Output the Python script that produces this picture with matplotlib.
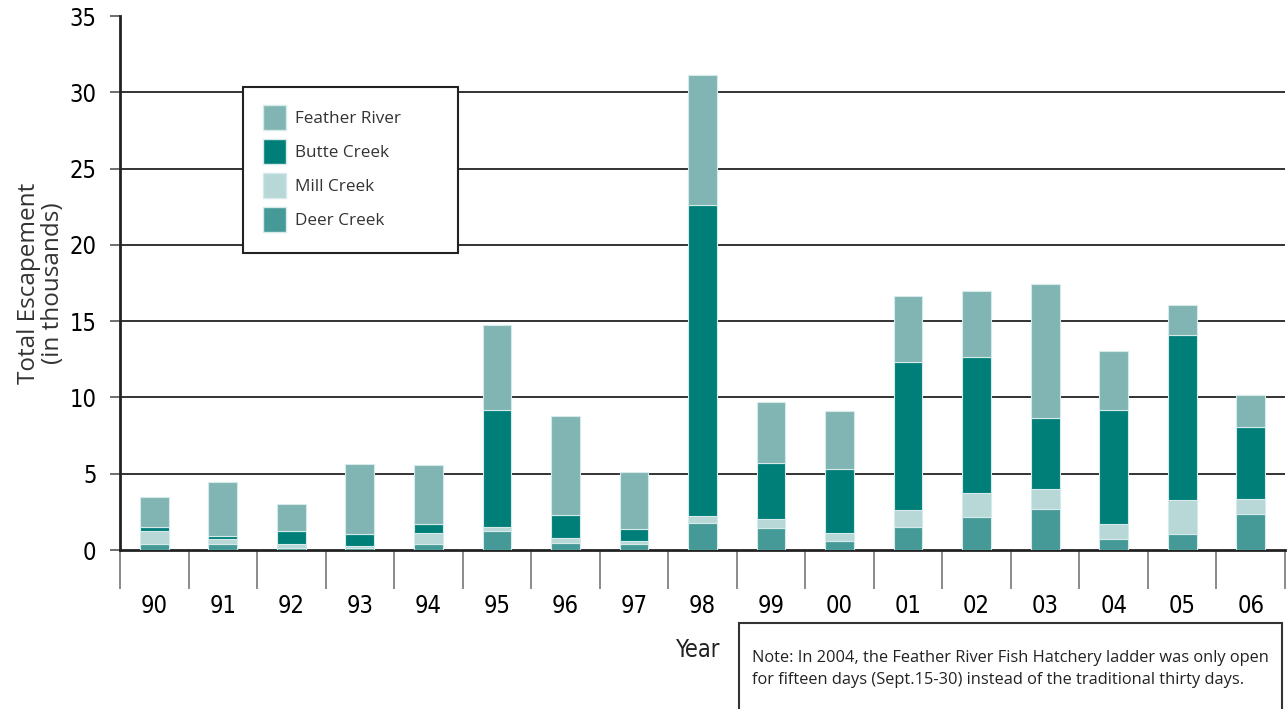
import numpy as np
import matplotlib.pyplot as plt
from matplotlib.patches import Patch, Rectangle
from matplotlib import font_manager

years = ['90', '91', '92', '93', '94', '95', '96', '97', '98',
         '99', '00', '01', '02', '03', '04', '05', '06']

# escapement by stream, thousands of fish (stacked bottom to top)
deer = [0.40, 0.37, 0.15, 0.15, 0.37, 1.27, 0.48, 0.37, 1.80,
        1.44, 0.59, 1.49, 2.16, 2.71, 0.70, 1.03, 2.36]
mill = [0.85, 0.33, 0.22, 0.11, 0.76, 0.22, 0.32, 0.22, 0.45,
        0.56, 0.54, 1.11, 1.56, 1.31, 1.00, 2.25, 1.00]
butte = [0.25, 0.22, 0.88, 0.79, 0.57, 7.71, 1.47, 0.79, 20.35,
         3.72, 4.17, 9.74, 8.93, 4.63, 7.50, 10.82, 4.70]
feather = [1.95, 3.56, 1.75, 4.59, 3.85, 5.55, 6.53, 3.72, 8.55,
           3.96, 3.83, 4.29, 4.30, 8.76, 3.84, 1.98, 2.08]

series = [('Deer Creek', deer, '#459a98'),
          ('Mill Creek', mill, '#b8d7d7'),
          ('Butte Creek', butte, '#007f79'),
          ('Feather River', feather, '#80b5b3')]

# narrow face for the numbers
narrow = font_manager.FontProperties(family='DejaVu Sans', stretch='condensed', size=17)

fig = plt.figure(figsize=(12.87, 7.09), dpi=100)
ax = fig.add_axes([120 / 1287, 1 - 550 / 709, 1165 / 1287, 534 / 709])

x = np.arange(len(years))
bottom = np.zeros(len(years))
for name, vals, col in series:
    ax.bar(x, vals, width=0.42, bottom=bottom, color=col,
           edgecolor='#d6eaea', linewidth=0.8, zorder=3)
    bottom += np.array(vals)

ax.set_xlim(-0.5, len(years) - 0.5)
ax.set_ylim(0, 35)

yt = np.arange(0, 40, 5)
ax.set_yticks(yt)
ax.set_yticklabels([str(v) for v in yt], fontproperties=narrow)
ax.tick_params(axis='y', length=7, width=1.2, color='#555555', pad=10)
for v in yt[1:-1]:
    ax.axhline(v, color='#333333', lw=1.4, zorder=1)

# year separators as long ticks, labels centred between them
ax.set_xticks(np.arange(-0.5, len(years), 1))
ax.set_xticklabels([])
ax.tick_params(axis='x', which='major', length=28, width=1.2, color='#777777')
ax.set_xticks(x, minor=True)
ax.set_xticklabels(years, minor=True, fontproperties=narrow)
ax.tick_params(axis='x', which='minor', length=0, pad=32)

for s in ['top', 'right']:
    ax.spines[s].set_visible(False)
ax.spines['left'].set_linewidth(2)
ax.spines['bottom'].set_linewidth(2)
ax.spines['left'].set_color('#222222')
ax.spines['bottom'].set_color('#222222')

ax.set_ylabel('Total Escapement\n(in thousands)', fontsize=17.5, family='Open Sans',
              color='#333333', labelpad=3, linespacing=1.0)

# legend entries without frame, box drawn separately
handles = [Patch(facecolor=c, edgecolor='#d6eaea', label=n) for n, _, c in series[::-1]]
leg = ax.legend(handles=handles, loc='upper left',
                bbox_to_anchor=(263 / 1287, 1 - 105 / 709),
                bbox_transform=fig.transFigure, borderaxespad=0, borderpad=0,
                frameon=False, prop={'family': 'Open Sans', 'size': 12.3},
                handlelength=1.35, handleheight=1.87, labelspacing=0.53,
                handletextpad=0.5)
for t in leg.get_texts():
    t.set_color('#333333')
leg.set_zorder(6)
ax.add_patch(Rectangle((243 / 1287, 1 - 253 / 709), 215 / 1287, 166 / 709,
                       transform=fig.transFigure, facecolor='white',
                       edgecolor='#222222', lw=1.5, zorder=5, clip_on=False))

fig.text(698 / 1287, 1 - 650 / 709, 'Year', fontproperties=narrow,
         ha='center', va='center', color='#222222')

fig.patches.append(Rectangle((739 / 1287, -0.02), 543 / 1287, 0.02 + 1 - 623 / 709,
                             transform=fig.transFigure, fill=False,
                             edgecolor='#333333', lw=1.5))
fig.text(752 / 1287, 1 - 669 / 709,
         'Note: In 2004, the Feather River Fish Hatchery ladder was only open\n'
         'for fifteen days (Sept.15-30) instead of the traditional thirty days.',
         fontsize=11.8, family='Open Sans', va='center', ha='left',
         color='#222222', linespacing=1.55)

fig.savefig('out.png', dpi=100)
